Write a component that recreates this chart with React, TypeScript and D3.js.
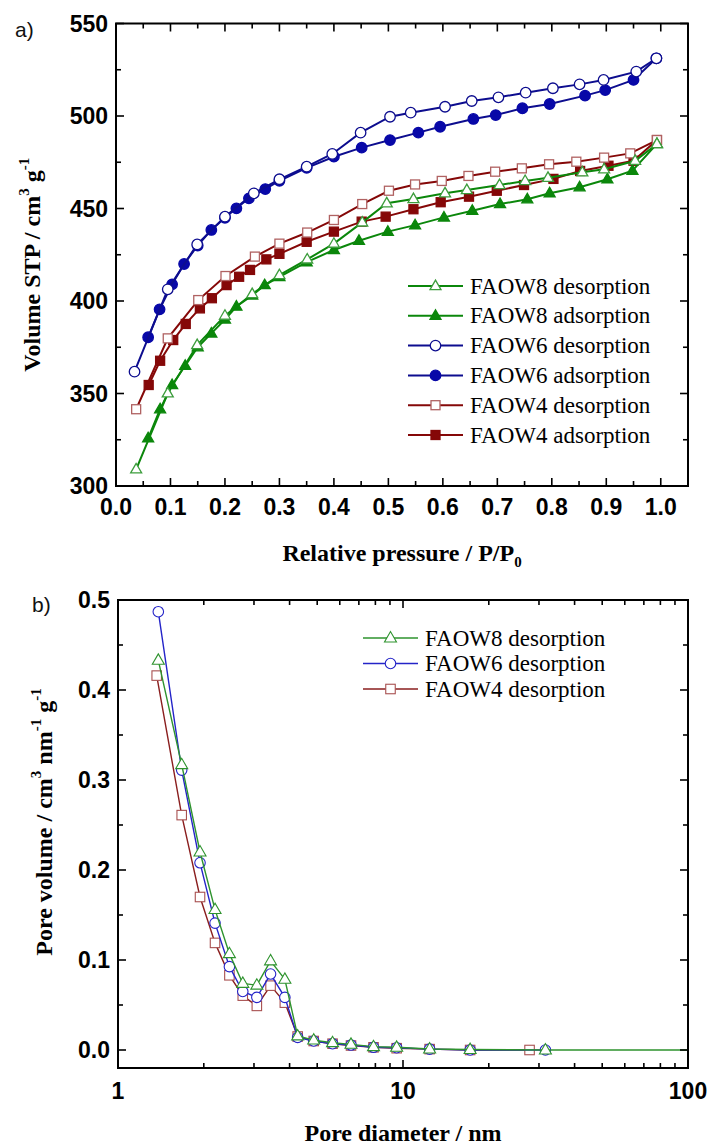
import React from 'react';
import * as d3 from 'd3';

type P = [number, number];

// ---- Panel a) isotherms: [P/P0, Volume STP]
const faow8Des: P[] = [[0.037,309],[0.095,350.1],[0.149,376.2],[0.2,392.1],[0.25,403.8],[0.3,414],[0.351,422.5],[0.4,431],[0.452,442.5],[0.497,452.8],[0.546,455.1],[0.604,458.2],[0.644,460],[0.704,462.7],[0.751,464.9],[0.793,466.6],[0.856,469.6],[0.896,471.2],[0.953,475.8],[0.993,484.9]];
const faow8Ads: P[] = [[0.059,325.8],[0.081,341.5],[0.103,354.6],[0.127,365],[0.15,375],[0.175,382.5],[0.2,390],[0.221,397],[0.25,403],[0.273,408.6],[0.3,413],[0.35,421],[0.4,427.6],[0.446,432.6],[0.499,437.5],[0.549,441],[0.602,445.2],[0.654,448.8],[0.705,452.4],[0.755,455],[0.796,458.2],[0.851,461.5],[0.902,465.8],[0.948,470.4],[0.993,484.9]];
const faow6Des: P[] = [[0.034,361.8],[0.095,406.3],[0.149,430.6],[0.2,445.6],[0.253,458.2],[0.3,465.8],[0.35,472.6],[0.397,479.5],[0.449,491],[0.503,499.6],[0.541,501.8],[0.604,505],[0.653,508.1],[0.702,510.1],[0.752,512.6],[0.802,515],[0.851,517.1],[0.895,519.5],[0.955,524],[0.992,531.2]];
const faow6Ads: P[] = [[0.059,380.4],[0.08,395.5],[0.103,409],[0.125,420],[0.15,430],[0.175,438.4],[0.2,445],[0.221,450.1],[0.244,455.5],[0.274,460.5],[0.3,465],[0.35,472],[0.4,478],[0.451,482.9],[0.503,487],[0.555,491],[0.595,494.2],[0.656,498.4],[0.697,500.5],[0.746,504.2],[0.796,506.5],[0.861,511],[0.898,514],[0.95,519.5],[0.992,531.2]];
const faow4Des: P[] = [[0.037,341.5],[0.095,379.8],[0.151,400.5],[0.201,413.5],[0.255,424],[0.3,431],[0.351,437],[0.4,443.8],[0.452,452.4],[0.501,459.6],[0.549,463],[0.598,464.9],[0.647,467.6],[0.696,469.9],[0.745,471.7],[0.795,473.9],[0.845,475.3],[0.896,477.5],[0.944,479.8],[0.993,487]];
const faow4Ads: P[] = [[0.06,354.6],[0.081,367.7],[0.105,378.9],[0.128,387.6],[0.154,396],[0.176,401.5],[0.203,408.6],[0.226,413.1],[0.246,416.8],[0.276,422.5],[0.3,425.5],[0.35,432],[0.4,437.5],[0.451,442.9],[0.495,445.6],[0.546,449.6],[0.596,453.4],[0.648,456.4],[0.699,459.6],[0.749,462.7],[0.803,466],[0.852,470.3],[0.904,473.1],[0.95,475.8],[0.993,487]];

// ---- Panel b) pore size distribution: [diameter nm, pore volume]
const psd8: P[] = [[1.385,0.433],[1.673,0.317],[1.94,0.22],[2.19,0.156],[2.46,0.107],[2.74,0.074],[3.07,0.072],[3.43,0.099],[3.85,0.0785],[4.27,0.0156],[4.86,0.011],[5.66,0.0081],[6.57,0.0063],[7.88,0.0037],[9.5,0.003],[12.4,0.0011],[17.2,0.0005],[31.6,0.0],[100,0.0]];
const psd6: P[] = [[1.385,0.487],[1.673,0.311],[1.94,0.208],[2.19,0.141],[2.46,0.0926],[2.74,0.065],[3.07,0.0585],[3.43,0.0844],[3.85,0.0585],[4.27,0.014],[4.86,0.01],[5.66,0.007],[6.57,0.0055],[7.88,0.003],[9.5,0.0025],[12.4,0.001],[17.2,0.0],[31.6,0.0]];
const psd4: P[] = [[1.367,0.416],[1.673,0.261],[1.94,0.17],[2.19,0.119],[2.46,0.083],[2.74,0.0604],[3.07,0.049],[3.43,0.0715],[3.85,0.0526],[4.27,0.015],[4.86,0.01],[5.66,0.007],[6.57,0.005],[7.88,0.003],[9.5,0.002],[12.4,0.001],[17.2,0.0],[27.8,0.0]];

const xTicksA = [0, 0.1, 0.2, 0.3, 0.4, 0.5, 0.6, 0.7, 0.8, 0.9, 1.0];
const yTicksA = [300, 350, 400, 450, 500, 550];
const yTicksB = [0, 0.1, 0.2, 0.3, 0.4, 0.5];
const xTicksB = [1, 10, 100];

const legendA = ['FAOW8 desorption', 'FAOW8 adsorption', 'FAOW6 desorption', 'FAOW6 adsorption', 'FAOW4 desorption', 'FAOW4 adsorption'];
const legendB = ['FAOW8 desorption', 'FAOW6 desorption', 'FAOW4 desorption'];

type Shape = 'tri' | 'circ' | 'sq';

function Marker({ shape, x, y, fill, stroke, s, sw }: { shape: Shape; x: number; y: number; fill: string; stroke: string; s: number; sw: number }) {
  if (shape === 'circ') return <circle cx={x} cy={y} r={s / 2} fill={fill} stroke={stroke} strokeWidth={sw} />;
  if (shape === 'sq') return <rect x={x - s / 2} y={y - s / 2} width={s} height={s} fill={fill} stroke={stroke} strokeWidth={sw} />;
  const h = s * 0.866;
  const pts = `${x},${y - h * 0.62} ${x - s / 2},${y + h * 0.38} ${x + s / 2},${y + h * 0.38}`;
  return <polygon points={pts} fill={fill} stroke={stroke} strokeWidth={sw} />;
}

const SANS = "'Liberation Sans', Arial, sans-serif";
const SERIF = "'Liberation Serif', 'Times New Roman', serif";

export default function App() {
  // panel a
  const ax0 = 116, ax1 = 688, ay0 = 23.5, ay1 = 486;
  const xA = d3.scaleLinear().domain([0, 1.05]).range([ax0, ax1]);
  const yA = d3.scaleLinear().domain([300, 550]).range([ay1, ay0]);
  const lineA = d3.line<P>().x(d => xA(d[0])).y(d => yA(d[1]));
  // panel b
  const bx0 = 118, bx1 = 688, by0 = 600, by1 = 1068;
  const xB = d3.scaleLog().domain([1, 100]).range([bx0, bx1]);
  const yB = d3.scaleLinear().domain([-0.02, 0.5]).range([by1, by0]);
  const lineB = d3.line<P>().x(d => xB(d[0])).y(d => yB(d[1]));

  const G = '#0b870b', GL = '#3d9d3d';
  const B = '#0d0d8f', BF = '#0808a8';
  const R = '#850808', RL = '#b06262';

  const seriesA = [
    { data: faow4Ads, color: R, shape: 'sq' as Shape, fill: R, stroke: R, s: 9 },
    { data: faow4Des, color: R, shape: 'sq' as Shape, fill: '#fff', stroke: RL, s: 9 },
    { data: faow6Ads, color: B, shape: 'circ' as Shape, fill: BF, stroke: BF, s: 10.5 },
    { data: faow6Des, color: B, shape: 'circ' as Shape, fill: '#fff', stroke: B, s: 10.5 },
    { data: faow8Ads, color: G, shape: 'tri' as Shape, fill: G, stroke: G, s: 11 },
    { data: faow8Des, color: G, shape: 'tri' as Shape, fill: '#fff', stroke: GL, s: 11 },
  ];
  const legA = [seriesA[5], seriesA[4], seriesA[3], seriesA[2], seriesA[1], seriesA[0]];

  const GB = '#2e932e', BB = '#2424c8', RB = '#8a1e1e', RBL = '#a85050';
  const seriesB = [
    { data: psd4, color: RB, shape: 'sq' as Shape, stroke: RBL, s: 9.5 },
    { data: psd6, color: BB, shape: 'circ' as Shape, stroke: BB, s: 10.5 },
    { data: psd8, color: GB, shape: 'tri' as Shape, stroke: GB, s: 12 },
  ];
  const legB = [seriesB[2], seriesB[1], seriesB[0]];

  const minorXA = d3.range(0.05, 1.0, 0.1);
  const minorYA = d3.range(325, 550, 50);
  const minorYB = d3.range(0.05, 0.5, 0.1);
  const minorXB: number[] = [];
  [1, 10].forEach(dec => { for (let k = 2; k <= 9; k++) minorXB.push(dec * k); });

  const maj = 8, mnr = 5;
  const tickFs = 23;

  return (
    <svg width={712} height={1148} style={{ position: 'absolute', left: 0, top: 0, background: '#fff' }}>
      <rect x={0} y={0} width={712} height={1148} fill="#fff" />

      {/* ================= Panel a ================= */}
      <text x={15} y={37} style={{ fontFamily: SANS }} fontSize={21} fill="#111">a)</text>
      <defs>
        <clipPath id="clipA"><rect x={ax0} y={ay0} width={ax1 - ax0} height={ay1 - ay0} /></clipPath>
        <clipPath id="clipB"><rect x={bx0} y={by0} width={bx1 - bx0} height={by1 - by0} /></clipPath>
      </defs>
      <g clipPath="url(#clipA)">
        {seriesA.map((s, i) => (
          <g key={i}>
            <path d={lineA(s.data) || ''} fill="none" stroke={s.color} strokeWidth={2} />
            {s.data.map((d, j) => (
              <Marker key={j} shape={s.shape} x={xA(d[0])} y={yA(d[1])} fill={s.fill} stroke={s.stroke} s={s.s} sw={1.3} />
            ))}
          </g>
        ))}
      </g>
      {/* frame + ticks */}
      <rect x={ax0} y={ay0} width={ax1 - ax0} height={ay1 - ay0} fill="none" stroke="#000" strokeWidth={2} />
      {xTicksA.map(t => (
        <g key={'xa' + t}>
          <line x1={xA(t)} x2={xA(t)} y1={ay1} y2={ay1 - maj} stroke="#000" strokeWidth={1.6} />
          <line x1={xA(t)} x2={xA(t)} y1={ay0} y2={ay0 + maj} stroke="#000" strokeWidth={1.6} />
          <text x={xA(t)} y={ay1 + 21} textAnchor="middle" dominantBaseline="central" style={{ fontFamily: SANS, fontWeight: 'bold' }} fontSize={tickFs} fill="#000">{t.toFixed(1)}</text>
        </g>
      ))}
      {minorXA.map(t => (
        <g key={'mxa' + t}>
          <line x1={xA(t)} x2={xA(t)} y1={ay1} y2={ay1 - mnr} stroke="#000" strokeWidth={1.6} />
          <line x1={xA(t)} x2={xA(t)} y1={ay0} y2={ay0 + mnr} stroke="#000" strokeWidth={1.6} />
        </g>
      ))}
      {yTicksA.map(t => (
        <g key={'ya' + t}>
          <line x1={ax0} x2={ax0 + maj} y1={yA(t)} y2={yA(t)} stroke="#000" strokeWidth={1.6} />
          <line x1={ax1} x2={ax1 - maj} y1={yA(t)} y2={yA(t)} stroke="#000" strokeWidth={1.6} />
          <text x={ax0 - 8} y={yA(t)} textAnchor="end" dominantBaseline="central" style={{ fontFamily: SANS, fontWeight: 'bold' }} fontSize={tickFs} fill="#000">{t}</text>
        </g>
      ))}
      {minorYA.map(t => (
        <g key={'mya' + t}>
          <line x1={ax0} x2={ax0 + mnr} y1={yA(t)} y2={yA(t)} stroke="#000" strokeWidth={1.6} />
          <line x1={ax1} x2={ax1 - mnr} y1={yA(t)} y2={yA(t)} stroke="#000" strokeWidth={1.6} />
        </g>
      ))}
      {/* legend a */}
      {legA.map((s, i) => {
        const y = 286 + i * 29.8;
        return (
          <g key={'la' + i}>
            <line x1={408} x2={463} y1={y} y2={y} stroke={s.color} strokeWidth={2} />
            <Marker shape={s.shape} x={435.5} y={y} fill={s.fill} stroke={s.stroke} s={s.s} sw={1.3} />
            <text x={470} y={y} dominantBaseline="central" style={{ fontFamily: SERIF }} fontSize={23} fill="#000">{legendA[i]}</text>
          </g>
        );
      })}
      {/* axis titles a */}
      <text x={(ax0 + ax1) / 2} y={561} textAnchor="middle" style={{ fontFamily: SERIF, fontWeight: 'bold' }} fontSize={24} fill="#000">
        Relative pressure / P/P<tspan fontSize={15} dy={6}>0</tspan>
      </text>
      <text transform={`translate(40, ${(ay0 + ay1) / 2 + 10}) rotate(-90)`} textAnchor="middle" style={{ fontFamily: SERIF, fontWeight: 'bold' }} fontSize={24} fill="#000">
        Volume STP / cm<tspan fontSize={15} dy={-11}>3</tspan><tspan dy={11}> g</tspan><tspan fontSize={15} dy={-11}>-1</tspan>
      </text>

      {/* ================= Panel b ================= */}
      <text x={32} y={612} style={{ fontFamily: SANS }} fontSize={21} fill="#111">b)</text>
      <g clipPath="url(#clipB)">
        {seriesB.map((s, i) => (
          <g key={i}>
            <path d={lineB(s.data) || ''} fill="none" stroke={s.color} strokeWidth={1.4} />
            {s.data.filter(d => d[0] < 90).map((d, j) => (
              <Marker key={j} shape={s.shape} x={xB(d[0])} y={yB(d[1])} fill="#fff" stroke={s.stroke} s={s.s} sw={1.1} />
            ))}
          </g>
        ))}
      </g>
      <rect x={bx0} y={by0} width={bx1 - bx0} height={by1 - by0} fill="none" stroke="#000" strokeWidth={2} />
      {xTicksB.map(t => (
        <g key={'xb' + t}>
          <line x1={xB(t)} x2={xB(t)} y1={by1} y2={by1 - maj} stroke="#000" strokeWidth={1.6} />
          <line x1={xB(t)} x2={xB(t)} y1={by0} y2={by0 + maj} stroke="#000" strokeWidth={1.6} />
          <text x={xB(t)} y={by1 + 23} textAnchor="middle" dominantBaseline="central" style={{ fontFamily: SANS, fontWeight: 'bold' }} fontSize={tickFs} fill="#000">{t}</text>
        </g>
      ))}
      {minorXB.map(t => (
        <g key={'mxb' + t}>
          <line x1={xB(t)} x2={xB(t)} y1={by1} y2={by1 - mnr} stroke="#000" strokeWidth={1.6} />
          <line x1={xB(t)} x2={xB(t)} y1={by0} y2={by0 + mnr} stroke="#000" strokeWidth={1.6} />
        </g>
      ))}
      {yTicksB.map(t => (
        <g key={'yb' + t}>
          <line x1={bx0} x2={bx0 + maj} y1={yB(t)} y2={yB(t)} stroke="#000" strokeWidth={1.6} />
          <line x1={bx1} x2={bx1 - maj} y1={yB(t)} y2={yB(t)} stroke="#000" strokeWidth={1.6} />
          <text x={bx0 - 8} y={yB(t)} textAnchor="end" dominantBaseline="central" style={{ fontFamily: SANS, fontWeight: 'bold' }} fontSize={tickFs} fill="#000">{t.toFixed(1)}</text>
        </g>
      ))}
      {minorYB.map(t => (
        <g key={'myb' + t}>
          <line x1={bx0} x2={bx0 + mnr} y1={yB(t)} y2={yB(t)} stroke="#000" strokeWidth={1.6} />
          <line x1={bx1} x2={bx1 - mnr} y1={yB(t)} y2={yB(t)} stroke="#000" strokeWidth={1.6} />
        </g>
      ))}
      {legB.map((s, i) => {
        const y = 638 + i * 25.5;
        return (
          <g key={'lb' + i}>
            <line x1={363} x2={418} y1={y} y2={y} stroke={s.color} strokeWidth={1.4} />
            <Marker shape={s.shape} x={390.5} y={y} fill="#fff" stroke={s.stroke} s={s.s} sw={1.1} />
            <text x={425} y={y} dominantBaseline="central" style={{ fontFamily: SERIF }} fontSize={23} fill="#000">{legendB[i]}</text>
          </g>
        );
      })}
      <text x={(bx0 + bx1) / 2} y={1141} textAnchor="middle" style={{ fontFamily: SERIF, fontWeight: 'bold' }} fontSize={24} fill="#000">
        Pore diameter / nm
      </text>
      <text transform={`translate(52, ${(by0 + by1) / 2 - 12}) rotate(-90)`} textAnchor="middle" style={{ fontFamily: SERIF, fontWeight: 'bold' }} fontSize={24} fill="#000">
        Pore volume / cm<tspan fontSize={15} dy={-11}>3</tspan><tspan dy={11}> nm</tspan><tspan fontSize={15} dy={-11}>-1</tspan><tspan dy={11}> g</tspan><tspan fontSize={15} dy={-11}>-1</tspan>
      </text>
    </svg>
  );
}
